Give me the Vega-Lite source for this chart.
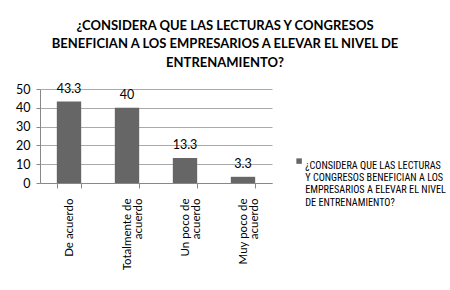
{
  "$schema": "https://vega.github.io/schema/vega-lite/v6.json",
  "width": 232,
  "height": 94,
  "autosize": {"type": "none"},
  "padding": {"left": 40, "top": 89, "right": 178, "bottom": 107},
  "background": "white",
  "config": {
    "font": "Lato",
    "view": {"stroke": null},
    "legend": {"labelLimit": 400}
  },
  "title": {
    "text": ["¿CONSIDERA QUE LAS LECTURAS Y CONGRESOS", "BENEFICIAN A LOS EMPRESARIOS A ELEVAR EL NIVEL DE", "ENTRENAMIENTO?"],
    "anchor": "middle",
    "frame": "group",
    "dx": 69,
    "offset": 13,
    "fontSize": 13,
    "fontWeight": "bold",
    "lineHeight": 18.5,
    "color": "#000000",
    "font": "Lato"
  },
  "data": {
    "values": [
      {"respuesta": "De acuerdo", "porcentaje": 43.3, "serie": "¿CONSIDERA QUE LAS LECTURAS|Y CONGRESOS BENEFICIAN A LOS|EMPRESARIOS A ELEVAR EL NIVEL|DE ENTRENAMIENTO?"},
      {"respuesta": "Totalmente de|acuerdo", "porcentaje": 40, "serie": "¿CONSIDERA QUE LAS LECTURAS|Y CONGRESOS BENEFICIAN A LOS|EMPRESARIOS A ELEVAR EL NIVEL|DE ENTRENAMIENTO?"},
      {"respuesta": "Un poco de|acuerdo", "porcentaje": 13.3, "serie": "¿CONSIDERA QUE LAS LECTURAS|Y CONGRESOS BENEFICIAN A LOS|EMPRESARIOS A ELEVAR EL NIVEL|DE ENTRENAMIENTO?"},
      {"respuesta": "Muy poco de|acuerdo", "porcentaje": 3.3, "serie": "¿CONSIDERA QUE LAS LECTURAS|Y CONGRESOS BENEFICIAN A LOS|EMPRESARIOS A ELEVAR EL NIVEL|DE ENTRENAMIENTO?"}
    ]
  },
  "encoding": {
    "x": {
      "field": "respuesta",
      "type": "nominal",
      "sort": null,
      "scale": {"paddingInner": 0.58, "paddingOuter": 0.29},
      "axis": {
        "title": null,
        "labelAngle": -90,
        "labelAlign": "right",
        "labelBaseline": "middle",
        "labelExpr": "split(datum.label, '|')",
        "labelFontSize": 11.5,
        "labelColor": "#000000",
        "labelPadding": 10,
        "labelLineHeight": 11,
        "tickBand": "extent",
        "tickSize": 5,
        "tickColor": "#888888",
        "domainColor": "#888888",
        "grid": false
      }
    },
    "y": {
      "field": "porcentaje",
      "type": "quantitative",
      "scale": {"domain": [0, 50], "nice": false},
      "axis": {
        "title": null,
        "values": [0, 10, 20, 30, 40, 50],
        "labelFontSize": 12.5,
        "labelColor": "#000000",
        "labelPadding": 6,
        "tickSize": 4,
        "tickColor": "#888888",
        "domainColor": "#888888",
        "gridColor": "#aaaaaa",
        "gridWidth": 1
      }
    }
  },
  "layer": [
    {
      "mark": {"type": "bar", "color": "#666666"},
      "encoding": {
        "color": {
          "field": "serie",
          "type": "nominal",
          "scale": {"range": ["#666666"]},
          "legend": {
            "title": null,
            "orient": "none",
            "legendX": 254,
            "legendY": 67,
            "symbolType": "square",
            "symbolSize": 30,
            "labelExpr": "split(datum.label, '|')",
            "labelFont": "Roboto Condensed",
            "labelFontSize": 10.2,
            "labelLineHeight": 14,
            "labelLimit": 400,
            "labelColor": "#000000",
            "labelBaseline": "top",
            "labelOffset": 1
          }
        }
      }
    },
    {
      "mark": {"type": "text", "baseline": "middle", "dy": -13, "fontSize": 12.5, "color": "#000000"},
      "encoding": {
        "text": {"field": "porcentaje", "type": "quantitative"}
      }
    }
  ]
}
